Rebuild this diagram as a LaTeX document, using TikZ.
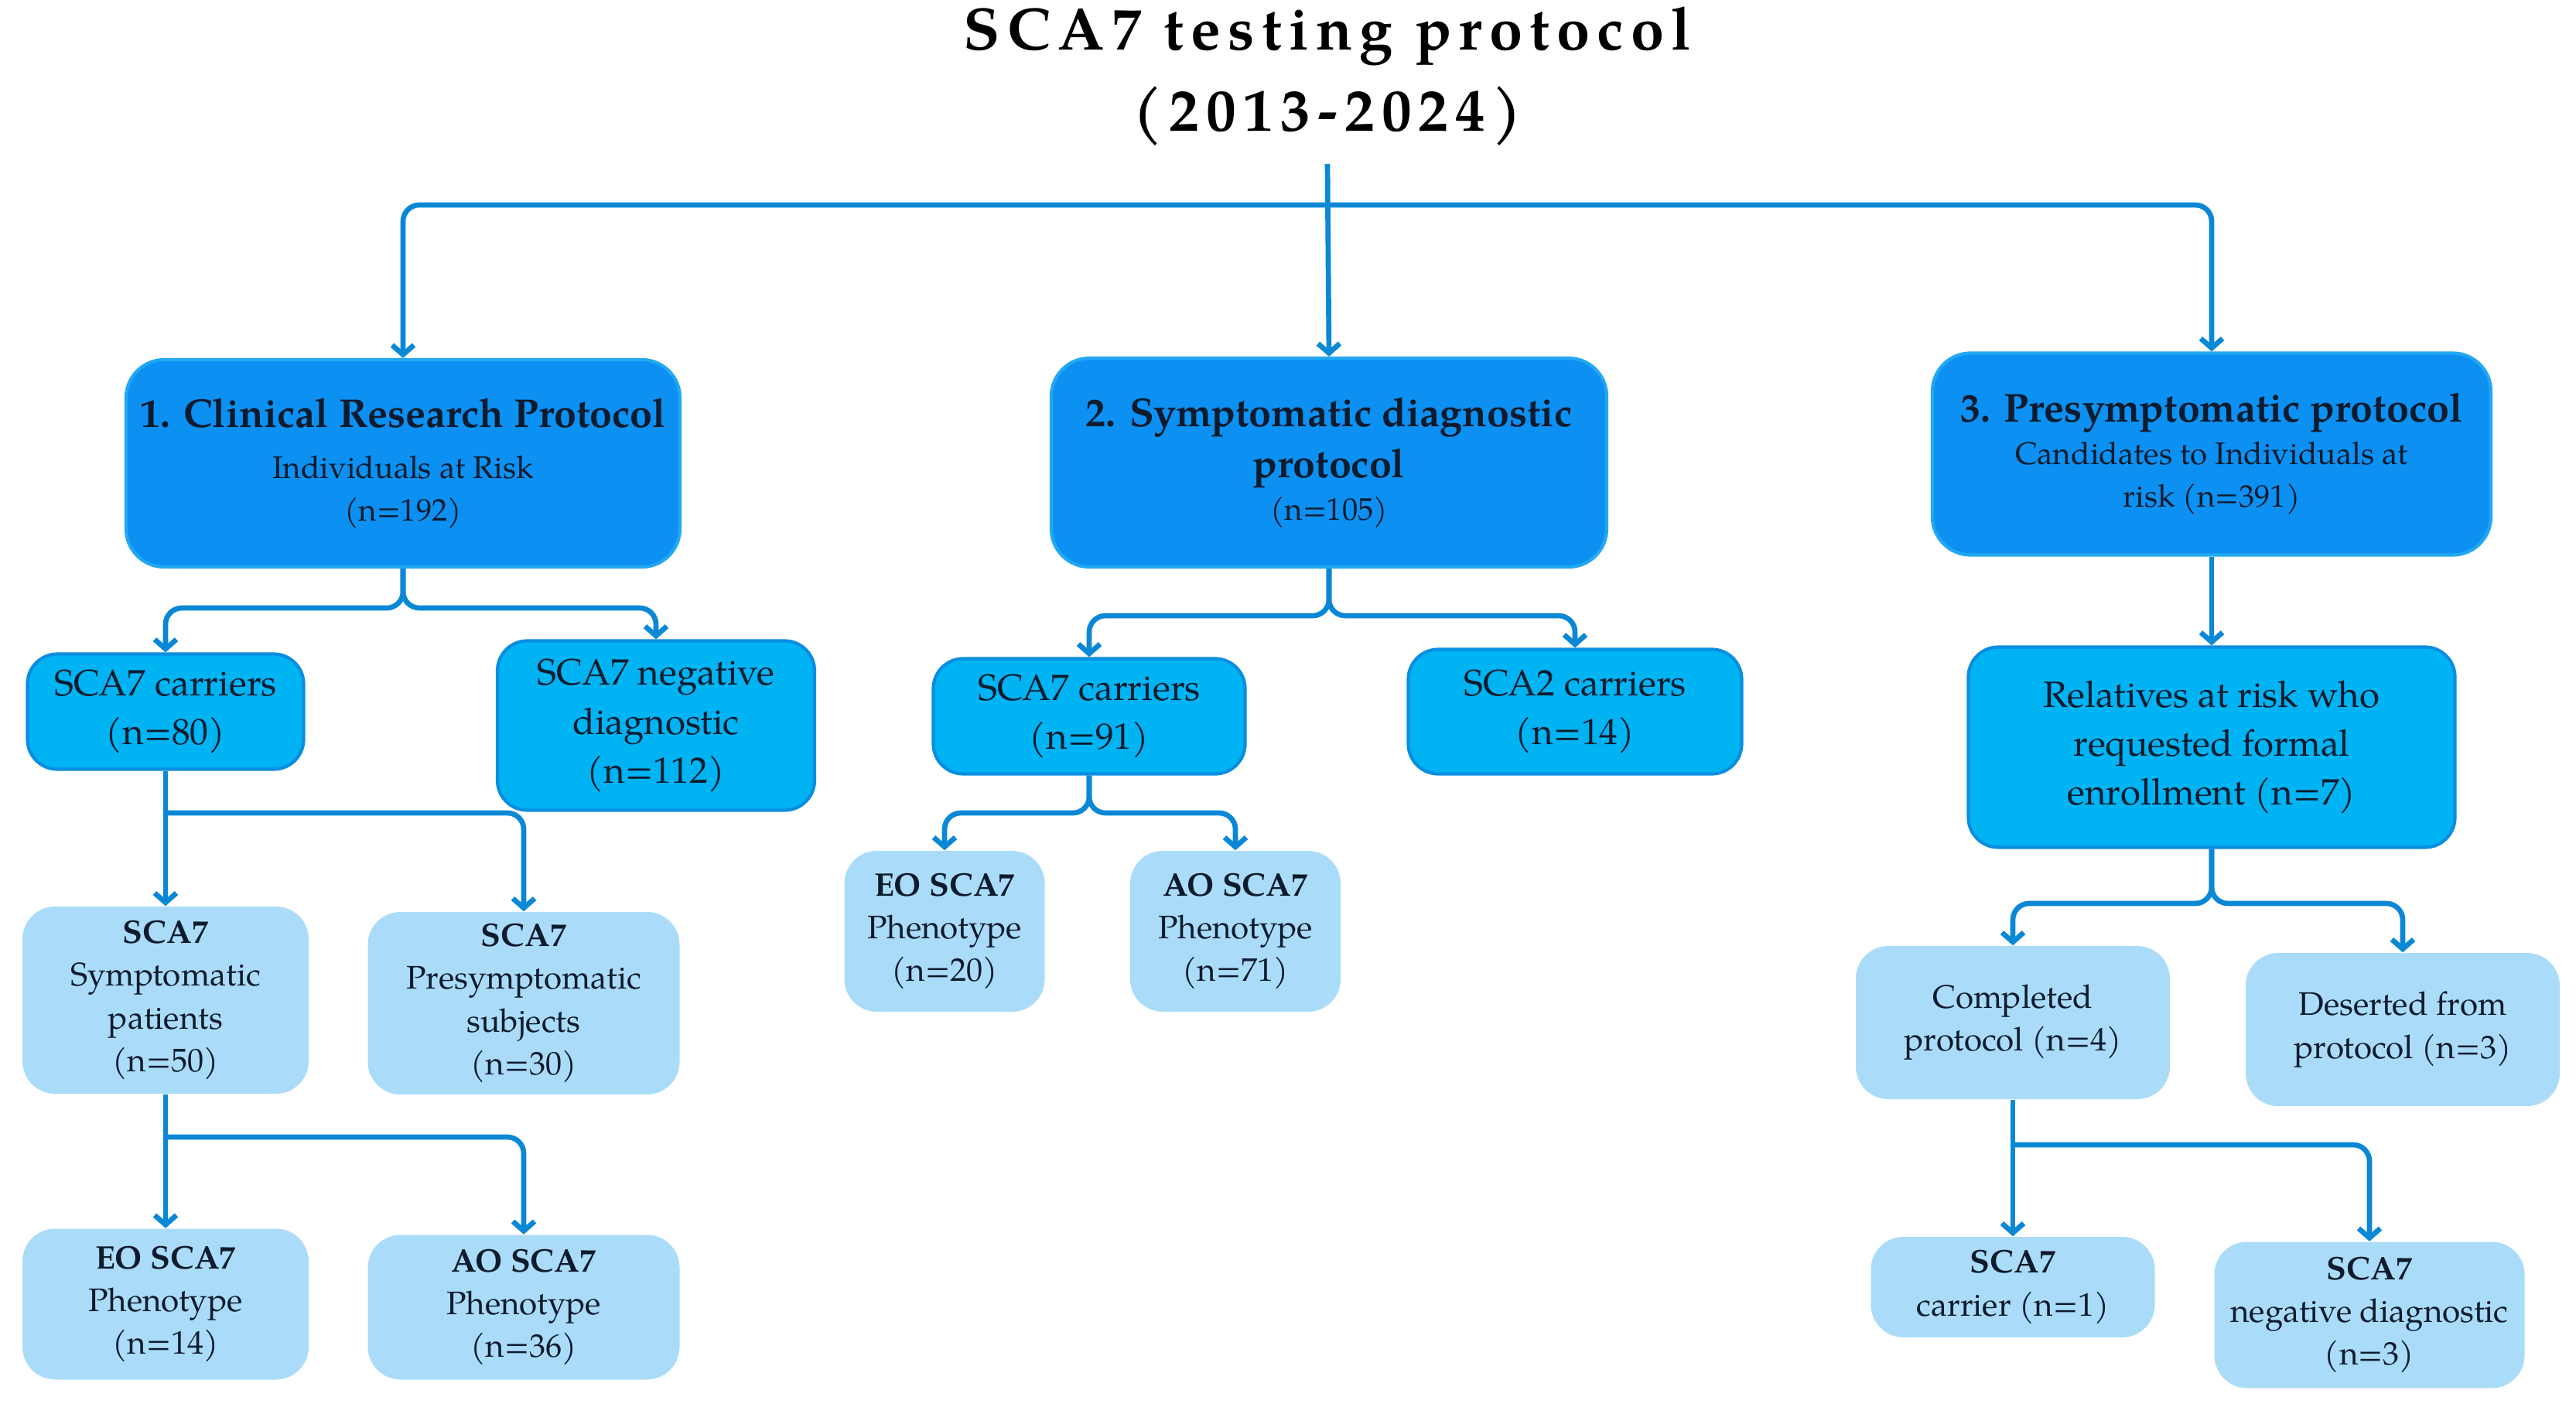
\documentclass[tikz,border=0pt]{standalone}
\usepackage{fontspec}
\setmainfont{TeX Gyre Pagella}
\usetikzlibrary{arrows.meta,positioning}

\definecolor{lineblue}{HTML}{0A88D6}
\definecolor{topfill}{HTML}{0C90F2}
\definecolor{topedge}{HTML}{22A8F2}
\definecolor{midfill}{HTML}{00B3F3}
\definecolor{midedge}{HTML}{0A8EE0}
\definecolor{leaffill}{HTML}{AADCFA}
\definecolor{ink}{HTML}{0E1B2C}

\begin{document}
\begin{tikzpicture}[
  every node/.style={text=ink, align=center, inner sep=0pt},
  topbox/.style={draw=topedge, line width=1.2pt, fill=topfill, rounded corners=14pt,
    font=\fontsize{11.5}{15.7}\selectfont},
  midbox/.style={draw=midedge, line width=1.2pt, fill=midfill, rounded corners=11pt,
    font=\fontsize{13.5}{18}\selectfont},
  leafbox/.style={fill=leaffill, rounded corners=12pt,
    font=\fontsize{12}{15.7}\selectfont},
  arr/.style={draw=lineblue, line width=1.9pt, rounded corners=6pt,
    -{Straight Barb[length=3.5pt,width=8pt]}}
]
  \useasboundingbox (0,0) rectangle (33.30,-18.19);
  % titolo
  \node[text=black, font=\fontsize{22}{30}\selectfont\bfseries\addfontfeature{LetterSpace=12}]
    (title) at (17.16,-0.99) {SCA7 testing protocol\\(2013-2024)};
  \coordinate (top) at (17.16,-2.12);
  \coordinate (hub) at (17.16,-2.65);

  % protocolli
  \node[topbox, minimum width=7.16cm, minimum height=2.68cm] (crp) at (5.21,-5.99)
    {{\fontsize{14.8}{19}\selectfont\bfseries 1. Clinical Research Protocol}\\[3pt]
     Individuals at Risk\\(n=192)};
  \node[topbox, minimum width=7.18cm, minimum height=2.70cm] (sdp) at (17.18,-5.98)
    {{\fontsize{14.8}{19}\selectfont\bfseries 2. Symptomatic diagnostic}\\[3pt]
     {\fontsize{14.8}{19}\selectfont\bfseries protocol}\\(n=105)};
  \node[topbox, minimum width=7.22cm, minimum height=2.61cm] (pp) at (28.59,-5.87)
    {{\fontsize{14.8}{19}\selectfont\bfseries 3. Presymptomatic protocol}\\
     Candidates to Individuals at\\risk (n=391)};

  % secondo livello
  \node[midbox, minimum width=3.57cm, minimum height=1.49cm] (car80) at (2.14,-9.20)
    {SCA7 carriers\\(n=80)};
  \node[midbox, minimum width=4.10cm, minimum height=2.19cm] (neg112) at (8.48,-9.38)
    {SCA7 negative\\diagnostic\\(n=112)};
  \node[midbox, minimum width=4.03cm, minimum height=1.49cm] (car91) at (14.08,-9.26)
    {SCA7 carriers\\(n=91)};
  \node[midbox, minimum width=4.31cm, minimum height=1.61cm] (sca2) at (20.36,-9.20)
    {SCA2 carriers\\(n=14)};
  \node[midbox, minimum width=6.29cm, minimum height=2.59cm] (rel) at (28.59,-9.66)
    {Relatives at risk who\\requested formal\\enrollment (n=7)};

  % terzo livello
  \node[leafbox, minimum width=3.70cm, minimum height=2.42cm] (sym50) at (2.14,-12.93)
    {\textbf{SCA7}\\Symptomatic\\patients\\(n=50)};
  \node[leafbox, minimum width=4.03cm, minimum height=2.36cm] (pre30) at (6.77,-12.97)
    {\textbf{SCA7}\\Presymptomatic\\subjects\\(n=30)};
  \node[leafbox, minimum width=2.59cm, minimum height=2.08cm] (eo20) at (12.21,-12.04)
    {\textbf{EO SCA7}\\Phenotype\\(n=20)};
  \node[leafbox, minimum width=2.72cm, minimum height=2.08cm] (ao71) at (15.97,-12.04)
    {\textbf{AO SCA7}\\Phenotype\\(n=71)};
  \node[leafbox, minimum width=4.06cm, minimum height=1.98cm] (comp4) at (26.02,-13.22)
    {Completed\\protocol (n=4)};
  \node[leafbox, minimum width=4.06cm, minimum height=1.98cm] (des3) at (31.06,-13.31)
    {Deserted from\\protocol (n=3)};

  % quarto livello
  \node[leafbox, minimum width=3.70cm, minimum height=1.95cm] (eo14) at (2.14,-16.86)
    {\textbf{EO SCA7}\\Phenotype\\(n=14)};
  \node[leafbox, minimum width=4.03cm, minimum height=1.87cm] (ao36) at (6.77,-16.90)
    {\textbf{AO SCA7}\\Phenotype\\(n=36)};
  \node[leafbox, minimum width=3.67cm, minimum height=1.30cm] (car1) at (26.02,-16.64)
    {\textbf{SCA7}\\carrier (n=1)};
  \node[leafbox, minimum width=4.01cm, minimum height=1.89cm] (neg3) at (30.63,-17.00)
    {\textbf{SCA7}\\negative diagnostic\\(n=3)};

  % frecce
  \draw[arr] (top) -- (sdp.north);
  \draw[arr] (hub) -| (crp.north);
  \draw[arr] (hub) -| (pp.north);

  \draw[arr] (crp.south) |- (car80.north |- 0,-7.86) -- (car80.north);
  \draw[arr] (crp.south) |- (neg112.north |- 0,-7.86) -- (neg112.north);
  \draw[arr] (sdp.south) |- (car91.north |- 0,-7.96) -- (car91.north);
  \draw[arr] (sdp.south) |- (sca2.north |- 0,-7.96) -- (sca2.north);
  \draw[arr] (pp.south) -- (rel.north);

  \coordinate (j80) at (2.14,-10.51);
  \draw[arr] (car80.south) -- (sym50.north);
  \draw[arr] (j80) -| (pre30.north);
  \draw[arr] (car91.south) |- (eo20.north |- 0,-10.51) -- (eo20.north);
  \draw[arr] (car91.south) |- (ao71.north |- 0,-10.51) -- (ao71.north);
  \draw[arr] (rel.south) |- (comp4.north |- 0,-11.68) -- (comp4.north);
  \draw[arr] (rel.south) |- (des3.north |- 0,-11.68) -- (des3.north);

  \coordinate (j50) at (2.14,-14.70);
  \draw[arr] (sym50.south) -- (eo14.north);
  \draw[arr] (j50) -| (ao36.north);
  \coordinate (j4) at (26.02,-14.80);
  \draw[arr] (comp4.south) -- (car1.north);
  \draw[arr] (j4) -| (neg3.north);
\end{tikzpicture}
\end{document}
